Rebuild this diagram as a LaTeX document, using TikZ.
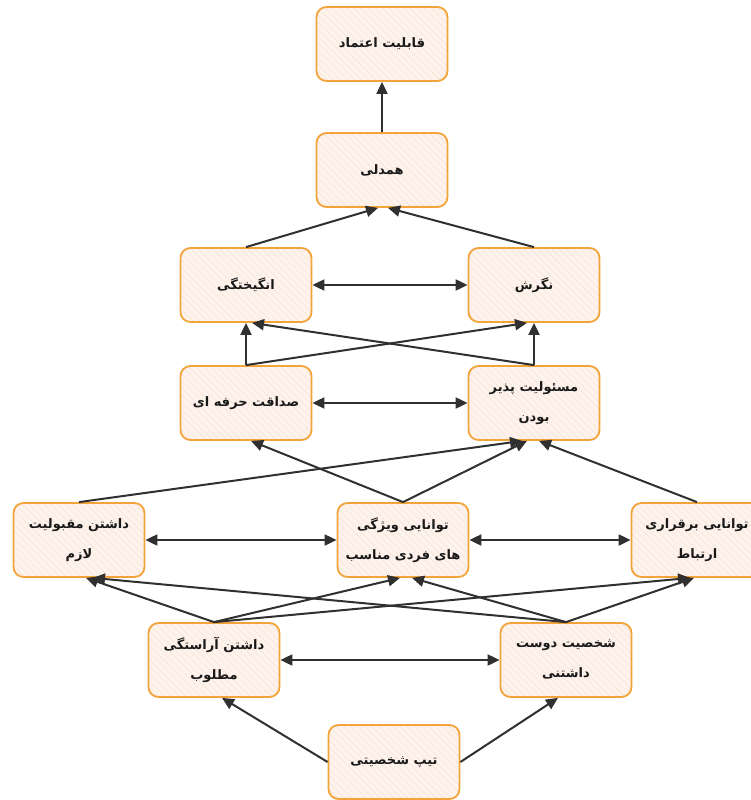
\documentclass[tikz,border=0pt]{standalone}
\usepackage{fontspec}
\newfontfamily\arabicfont[Script=Arabic]{DejaVu Sans}
\TeXXeTstate=1
\usetikzlibrary{arrows.meta,patterns.meta}
\definecolor{boxborder}{HTML}{F2A33A}
\definecolor{boxfill}{HTML}{FDF3EC}
\definecolor{boxhatch}{HTML}{F8E2D4}
\definecolor{linkcol}{HTML}{303030}
\newcommand{\fa}[1]{{\arabicfont\bfseries\beginR #1\endR}}
\tikzset{
  boxnode/.style={rectangle, rounded corners=10pt, minimum width=131pt, minimum height=74pt,
    draw=boxborder, line width=1.8pt,
    preaction={fill=boxfill},
    preaction={pattern={Lines[angle=-45,distance=5pt,line width=0.5pt]}, pattern color=boxhatch},
    align=center, font=\fontsize{13pt}{15pt}\selectfont, text=black!90},
  link/.style={draw=linkcol, line width=2pt, -{Triangle[length=12pt,width=11pt]}},
  dlink/.style={draw=linkcol, line width=2pt, {Triangle[length=12pt,width=11pt]}-{Triangle[length=12pt,width=11pt]}}
}
\begin{document}
\begin{tikzpicture}[x=1pt,y=-1pt]
\useasboundingbox (0,0) rectangle (751,800);
\node[boxnode] (n1) at (382,44) {\fa{قابلیت اعتماد}};
\node[boxnode] (n2) at (382,170) {\fa{همدلی}};
\node[boxnode] (n3) at (246,285) {\fa{انگیختگی}};
\node[boxnode] (n4) at (534,285) {\fa{نگرش}};
\node[boxnode] (n5) at (246,403) {\fa{صداقت حرفه ای}};
\node[boxnode] (n6) at (534,403) {\fa{مسئولیت پذیر}\\[15pt]\fa{بودن}};
\node[boxnode] (n7) at (79,540) {\fa{داشتن مقبولیت}\\[15pt]\fa{لازم}};
\node[boxnode] (n8) at (403,540) {\fa{توانایی ویژگی}\\[15pt]\fa{های فردی مناسب}};
\node[boxnode] (n9) at (697,540) {\fa{توانایی برقراری}\\[15pt]\fa{ارتباط}};
\node[boxnode] (n10) at (214,660) {\fa{داشتن آراستگی}\\[15pt]\fa{مطلوب}};
\node[boxnode] (n11) at (566,660) {\fa{شخصیت دوست}\\[15pt]\fa{داشتنی}};
\node[boxnode] (n12) at (394,762) {\fa{تیپ شخصیتی}};

\draw[link] (n2.north) -- (n1.south);
\draw[link] (n3.north) -- ([xshift=-4pt]n2.south);
\draw[link] (n4.north) -- ([xshift=6pt]n2.south);
\draw[dlink] (n3.east) -- (n4.west);

\draw[link] (n5.north) -- (n3.south);
\draw[link] (n5.north) -- ([xshift=-7pt]n4.south);
\draw[link] (n6.north) -- (n4.south);
\draw[link] (n6.north) -- ([xshift=6pt]n3.south);
\draw[dlink] (n5.east) -- (n6.west);

\draw[link] (n7.north) -- ([xshift=-12pt]n6.south);
\draw[link] (n8.north) -- ([xshift=5pt]n5.south);
\draw[link] (n8.north) -- ([xshift=-7pt]n6.south);
\draw[link] (n9.north) -- ([xshift=5pt]n6.south);
\draw[dlink] (n7.east) -- (n8.west);
\draw[dlink] (n8.east) -- (n9.west);

\draw[link] (n10.north) -- ([xshift=7pt]n7.south);
\draw[link] (n10.north) -- ([xshift=-3pt]n8.south);
\draw[link] (n10.north) -- ([xshift=-7pt]n9.south);
\draw[link] (n11.north) -- ([xshift=14pt]n7.south);
\draw[link] (n11.north) -- ([xshift=9pt]n8.south);
\draw[link] (n11.north) -- ([xshift=-3pt]n9.south);
\draw[dlink] (n10.east) -- (n11.west);

\draw[link] (n12.west) -- ([xshift=8pt]n10.south);
\draw[link] (n12.east) -- ([xshift=-8pt]n11.south);
\end{tikzpicture}
\end{document}
